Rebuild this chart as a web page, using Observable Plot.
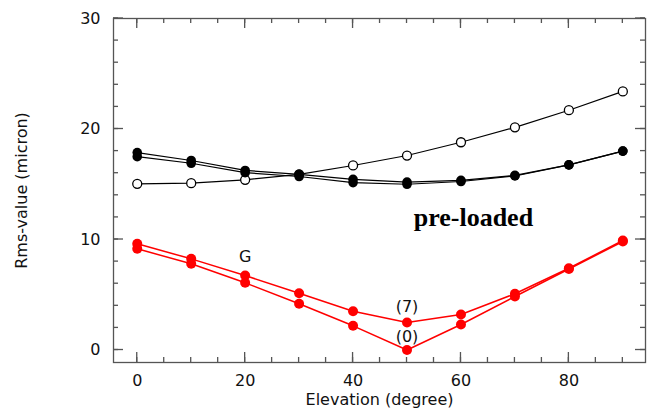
<!DOCTYPE html>
<html><head><meta charset="utf-8">
<script src="https://cdn.jsdelivr.net/npm/d3@7"></script>
<script src="https://cdn.jsdelivr.net/npm/@observablehq/plot@0.6"></script>
<style>body{margin:0;background:#fff}</style>
</head><body><div id="chart"></div>
<script>
const elevation = [0, 10, 20, 30, 40, 50, 60, 70, 80, 90];
const openRms = [15.04, 15.1, 15.4, 15.9, 16.7, 17.6, 18.8, 20.15, 21.7, 23.4];
const filledRmsA = [17.87, 17.15, 16.25, 15.9, 15.45, 15.2, 15.35, 15.8, 16.75, 18.0];
const filledRmsB = [17.5, 16.9, 16.05, 15.7, 15.15, 15.0, 15.25, 15.75, 16.75, 18.0];
const red7Rms = [9.61, 8.25, 6.74, 5.14, 3.51, 2.49, 3.21, 5.09, 7.4, 9.91];
const red0Rms = [9.16, 7.8, 6.08, 4.18, 2.19, 0, 2.31, 4.84, 7.33, 9.82];
const xMajorTicks = [0, 20, 40, 60, 80];
const xMinorTicks = [0, 5, 10, 15, 20, 25, 30, 35, 40, 45, 50, 55, 60, 65, 70, 75, 80, 85, 90];
const yMajorTicks = [0, 10, 20, 30];
const yMinorTicks = [0, 2, 4, 6, 8, 10, 12, 14, 16, 18, 20, 22, 24, 26, 28, 30];
const noteText = ["G", "(7)", "(0)"];
const noteX = [20, 50, 50];
const noteY = [8.4, 3.87, 1.22];
const boldText = ["pre-loaded"];
const boldX = [62.3];
const boldY = [12.0];

const toRows = (vals, series) => elevation.map((e, i) => ({elevation: e, rms: vals[i], series}));
const openRows = toRows(openRms, "open");
const filledRows = [...toRows(filledRmsA, "filledA"), ...toRows(filledRmsB, "filledB")];
const redRows = [...toRows(red7Rms, "red7"), ...toRows(red0Rms, "red0")];
const notes = noteText.map((t, i) => ({text: t, x: noteX[i], y: noteY[i]}));
const bold = boldText.map((t, i) => ({text: t, x: boldX[i], y: boldY[i]}));

const W = 654, H = 408, mL = 113, mR = 9, mT = 18, mB = 46;
const xDomain = [-4.4, 94.2], yDomain = [-1.13, 30];
const frameW = W - mL - mR, frameH = H - mT - mB;
// pixel-to-data conversion factors for drawing inward tick marks as thin rectangles
const xPer = (xDomain[1] - xDomain[0]) / frameW;
const yPer = (yDomain[1] - yDomain[0]) / frameH;
const axisColor = "#555";
const majorLen = 10, minorLen = 5, halfW = 0.65;
const tickMarks = [];
for (const [ticks, len] of [[xMajorTicks, majorLen], [xMinorTicks, minorLen]]) {
  tickMarks.push(Plot.rect(ticks, {x1: d => d - halfW * xPer, x2: d => d + halfW * xPer, y1: yDomain[0], y2: yDomain[0] + len * yPer, fill: axisColor}));
  tickMarks.push(Plot.rect(ticks, {x1: d => d - halfW * xPer, x2: d => d + halfW * xPer, y1: yDomain[1] - len * yPer, y2: yDomain[1], fill: axisColor}));
}
for (const [ticks, len] of [[yMajorTicks, majorLen], [yMinorTicks, minorLen]]) {
  tickMarks.push(Plot.rect(ticks, {y1: d => d - halfW * yPer, y2: d => d + halfW * yPer, x1: xDomain[0], x2: xDomain[0] + len * xPer, fill: axisColor}));
  tickMarks.push(Plot.rect(ticks, {y1: d => d - halfW * yPer, y2: d => d + halfW * yPer, x1: xDomain[1] - len * xPer, x2: xDomain[1], fill: axisColor}));
}

const plot = Plot.plot({
  width: W, height: H,
  marginLeft: mL, marginRight: mR, marginTop: mT, marginBottom: mB,
  x: {domain: xDomain},
  y: {domain: yDomain},
  style: {fontFamily: "DejaVu Sans", fontSize: "16px", color: "#111", background: "#fff"},
  marks: [
    Plot.frame({stroke: axisColor, strokeWidth: 1.3}),
    ...tickMarks,
    Plot.axisX({anchor: "bottom", ticks: xMajorTicks, tickSize: 0, tickPadding: 12, label: "Elevation (degree)", labelAnchor: "center", labelOffset: 42, labelArrow: "none"}),
    Plot.axisY({anchor: "left", ticks: yMajorTicks, tickSize: 0, tickPadding: 13, label: "Rms-value (micron)", labelAnchor: "center", labelOffset: 98, labelArrow: "none"}),
    Plot.line(openRows, {x: "elevation", y: "rms", stroke: "#000", strokeWidth: 1.2}),
    Plot.line(filledRows, {x: "elevation", y: "rms", z: "series", stroke: "#000", strokeWidth: 1.2}),
    Plot.dot(openRows, {x: "elevation", y: "rms", r: 4.5, fill: "#fff", stroke: "#000", strokeWidth: 1.3}),
    Plot.dot(filledRows, {x: "elevation", y: "rms", r: 4.8, fill: "#000"}),
    Plot.line(redRows, {x: "elevation", y: "rms", z: "series", stroke: "#f00", strokeWidth: 1.5}),
    Plot.dot(redRows, {x: "elevation", y: "rms", r: 5, fill: "#f00"}),
    Plot.text(notes, {x: "x", y: "y", text: "text", fontSize: 16, fill: "#111"}),
    Plot.text(bold, {x: "x", y: "y", text: "text", fontSize: 26, fontWeight: "bold", fontFamily: "Liberation Serif", fill: "#000"})
  ]
});
document.getElementById("chart").appendChild(plot);
</script>
</body></html>
